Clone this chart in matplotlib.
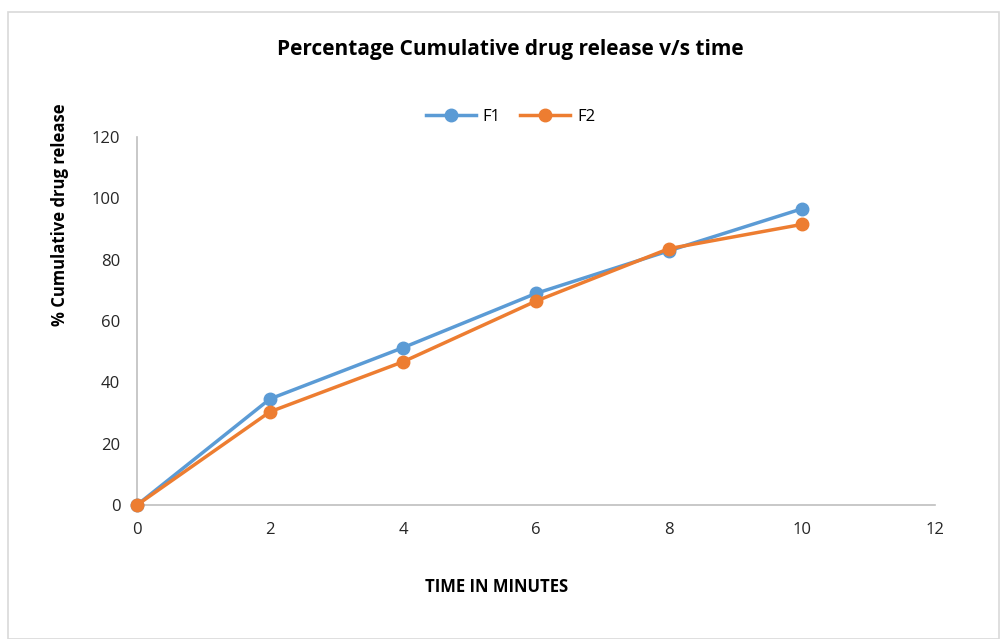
import matplotlib.pyplot as plt
from matplotlib.patches import Rectangle

time_min = [0, 2, 4, 6, 8, 10]
f1 = [0, 34.6, 51.3, 69.0, 82.9, 96.6]
f2 = [0, 30.4, 46.7, 66.5, 83.6, 91.5]

plt.rcParams['font.family'] = ['Open Sans', 'DejaVu Sans']

fig = plt.figure(figsize=(10.01, 6.39), dpi=100)
# outer chart frame
fig.patches.append(Rectangle((0.008, 0.0), 0.99, 0.982, transform=fig.transFigure,
                             fill=False, edgecolor='#d9d9d9', linewidth=1.2))

ax = fig.add_axes([137/1001, 1 - 505/639, (935 - 137)/1001, (505 - 137)/639])
ax.plot(time_min, f1, color='#5b9bd5', lw=2.5, marker='o', ms=9, label='F1',
        zorder=3, clip_on=False)
ax.plot(time_min, f2, color='#ed7d31', lw=2.5, marker='o', ms=9, label='F2',
        zorder=4, clip_on=False)

ax.set_xlim(0, 12)
ax.set_ylim(0, 120)
ax.set_xticks(range(0, 13, 2))
ax.set_yticks(range(0, 121, 20))
ax.tick_params(length=0, labelsize=12, colors='#262626', pad=12)
for s in ['top', 'right']:
    ax.spines[s].set_visible(False)
for s in ['left', 'bottom']:
    ax.spines[s].set_color('#bfbfbf')
    ax.spines[s].set_linewidth(1.2)

fig.text(497/1001, 1 - 587/639, 'TIME IN MINUTES', ha='center', va='center',
         fontsize=12, fontweight='bold')
fig.text(60/1001, 1 - 215/639, '% Cumulative drug release', ha='center', va='center',
         rotation=90, fontsize=12, fontweight='bold')
fig.text(0.51, 1 - 50/639, 'Percentage Cumulative drug release v/s time',
         ha='center', va='center', fontsize=15, fontweight='bold')
fig.legend(loc='center', bbox_to_anchor=(0.51, 1 - 117/639), ncol=2, frameon=False,
           fontsize=12, handlelength=3, columnspacing=1.2, handletextpad=0.4)

fig.savefig('out.png', dpi=100)
